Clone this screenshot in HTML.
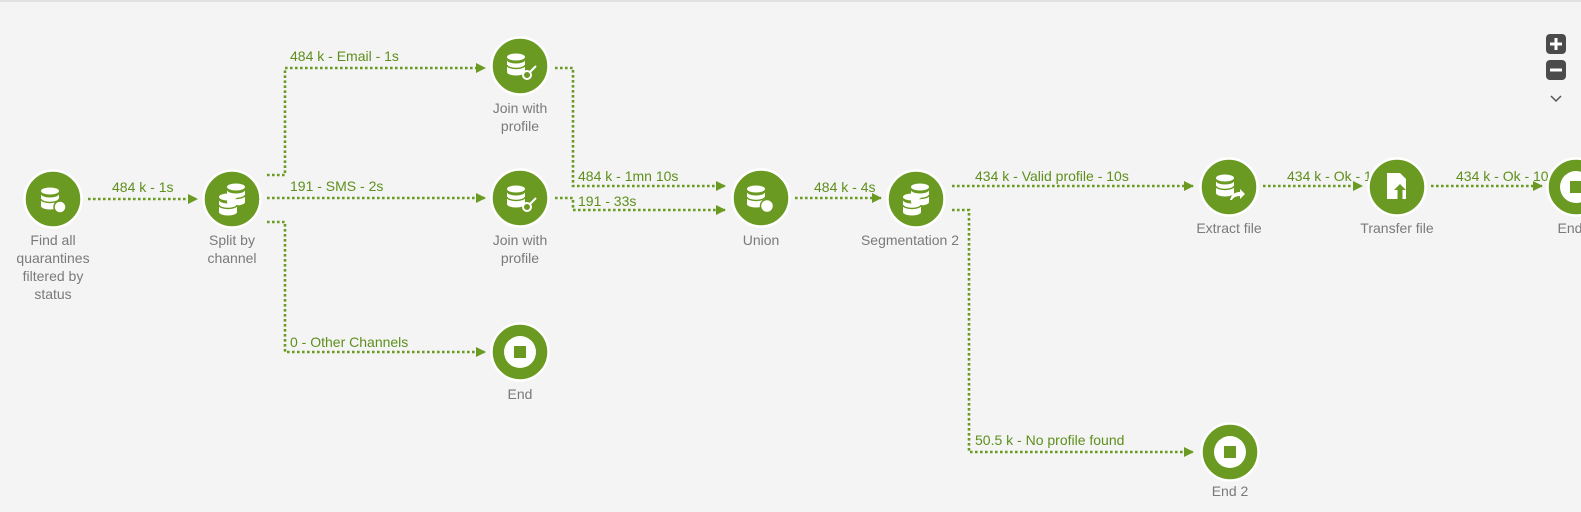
<!DOCTYPE html>
<html><head><meta charset="utf-8"><style>
html,body{margin:0;padding:0;background:#f4f4f4;}
svg{display:block;font-family:"Liberation Sans",sans-serif;}
.l{fill:#5e8f1c;font-size:14px;}
.n{fill:#7a7a7a;font-size:14px;text-anchor:middle;}
.c{fill:none;stroke:#6a9a22;stroke-width:2.6;stroke-dasharray:2.6 2.4;}
</style></head><body>
<svg width="1581" height="512" viewBox="0 0 1581 512">
<defs>
<marker id="a" markerWidth="10" markerHeight="10" refX="9" refY="5" orient="auto" markerUnits="userSpaceOnUse"><path d="M0,0 L10,5 L0,10 z" fill="#6a9a22"/></marker>
<g id="db"><ellipse cx="0" cy="-7" rx="9" ry="3.5" fill="#fff"/><path d="M-9,-4 v12 a9,3.5 0 0 0 18,0 v-12 a9,3.5 0 0 1 -18,0z" fill="#fff"/><path d="M-9,1 a9,3.5 0 0 0 18,0" stroke="#6a9a22" stroke-width="1.5" fill="none"/></g>
</defs>
<rect x="0" y="0" width="1581" height="2" fill="#e2e2e2"/>
<path class="c" d="M88,199 H197" marker-end="url(#a)"/>
<path class="c" d="M267,175 H285 V68 H485" marker-end="url(#a)"/>
<path class="c" d="M267,198 H485" marker-end="url(#a)"/>
<path class="c" d="M267,222 H285 V352 H485" marker-end="url(#a)"/>
<path class="c" d="M555,68 H573 V186 H725" marker-end="url(#a)"/>
<path class="c" d="M555,198 H573 V210 H725" marker-end="url(#a)"/>
<path class="c" d="M795,198 H881" marker-end="url(#a)"/>
<path class="c" d="M952,186 H1193" marker-end="url(#a)"/>
<path class="c" d="M952,210 H969 V452 H1193" marker-end="url(#a)"/>
<path class="c" d="M1263,186 H1362" marker-end="url(#a)"/>
<path class="c" d="M1431,186 H1542" marker-end="url(#a)"/>
<text class="l" x="112" y="192">484 k - 1s</text>
<text class="l" x="290" y="61">484 k - Email - 1s</text>
<text class="l" x="290" y="191">191 - SMS - 2s</text>
<text class="l" x="290" y="347">0 - Other Channels</text>
<text class="l" x="578" y="181">484 k - 1mn 10s</text>
<text class="l" x="578" y="206">191 - 33s</text>
<text class="l" x="814" y="192">484 k - 4s</text>
<text class="l" x="975" y="181">434 k - Valid profile - 10s</text>
<text class="l" x="975" y="445">50.5 k - No profile found</text>
<text class="l" x="1287" y="181">434 k - Ok - 10s</text>
<text class="l" x="1456" y="181">434 k - Ok - 10s</text>
<g fill="#6a9a22" stroke="#fff" stroke-width="2.5">
<circle cx="53" cy="199" r="28.5"/><circle cx="232" cy="199" r="28.5"/>
<circle cx="520" cy="66" r="28.5"/><circle cx="520" cy="198" r="28.5"/><circle cx="520" cy="352" r="28.5"/>
<circle cx="761" cy="198" r="28.5"/><circle cx="916" cy="199" r="28.5"/>
<circle cx="1229" cy="187" r="28.5"/><circle cx="1397" cy="187" r="28.5"/><circle cx="1576" cy="187" r="28.5"/>
<circle cx="1230" cy="452" r="28.5"/>
</g>
<use href="#db" x="50" y="198"/><circle cx="60" cy="207" r="6" fill="#fff" stroke="#6a9a22" stroke-width="1.5"/>
<use href="#db" x="236" y="194"/><use href="#db" x="228" y="204"/>
<use href="#db" x="516" y="64"/><circle cx="527" cy="75" r="4" fill="none" stroke="#fff" stroke-width="2"/><path d="M530,72 l6,-6" stroke="#fff" stroke-width="2"/>
<use href="#db" x="516" y="196"/><circle cx="527" cy="207" r="4" fill="none" stroke="#fff" stroke-width="2"/><path d="M530,204 l6,-6" stroke="#fff" stroke-width="2"/>
<use href="#db" x="756" y="196"/><circle cx="767" cy="206" r="6.5" fill="#fff" stroke="#6a9a22" stroke-width="1.5"/>
<use href="#db" x="920" y="194"/><use href="#db" x="912" y="204"/>
<use href="#db" x="1225" y="185"/><path d="M1230,200 q2,-8 10,-8 v-3 l5,5 -5,5 v-3 q-6,0 -8,4z" fill="#fff"/>
<path d="M1387,173 h13 l6,6 v20 h-19z" fill="#fff"/><path d="M1400,184 l6,6 h-3.5 v9 h-5 v-9 h-3.5z" fill="#6a9a22"/>
<g fill="#fff"><circle cx="520" cy="352" r="16"/><circle cx="1230" cy="452" r="16"/><circle cx="1576" cy="187" r="16"/></g>
<g fill="#6a9a22"><rect x="514" y="346" width="12" height="12"/><rect x="1224" y="446" width="12" height="12"/><rect x="1570" y="181" width="12" height="12"/></g>
<text class="n" x="53" y="245">Find all</text><text class="n" x="53" y="263">quarantines</text><text class="n" x="53" y="281">filtered by</text><text class="n" x="53" y="299">status</text>
<text class="n" x="232" y="245">Split by</text><text class="n" x="232" y="263">channel</text>
<text class="n" x="520" y="113">Join with</text><text class="n" x="520" y="131">profile</text>
<text class="n" x="520" y="245">Join with</text><text class="n" x="520" y="263">profile</text>
<text class="n" x="520" y="399">End</text>
<text class="n" x="761" y="245">Union</text>
<text class="n" x="910" y="245">Segmentation 2</text>
<text class="n" x="1229" y="233">Extract file</text>
<text class="n" x="1397" y="233">Transfer file</text>
<text class="n" x="1570" y="233">End</text>
<text class="n" x="1230" y="496">End 2</text>
<rect x="1546" y="34" width="20" height="20" rx="4" fill="#4b4b4b"/><path d="M1550,44 h12 M1556,38 v12" stroke="#fff" stroke-width="3"/>
<rect x="1546" y="60" width="20" height="20" rx="4" fill="#4b4b4b"/><path d="M1550,70 h12" stroke="#fff" stroke-width="3"/>
<path d="M1551,96 l5,5 5,-5" fill="none" stroke="#555" stroke-width="1.5"/>
</svg>
</body></html>
